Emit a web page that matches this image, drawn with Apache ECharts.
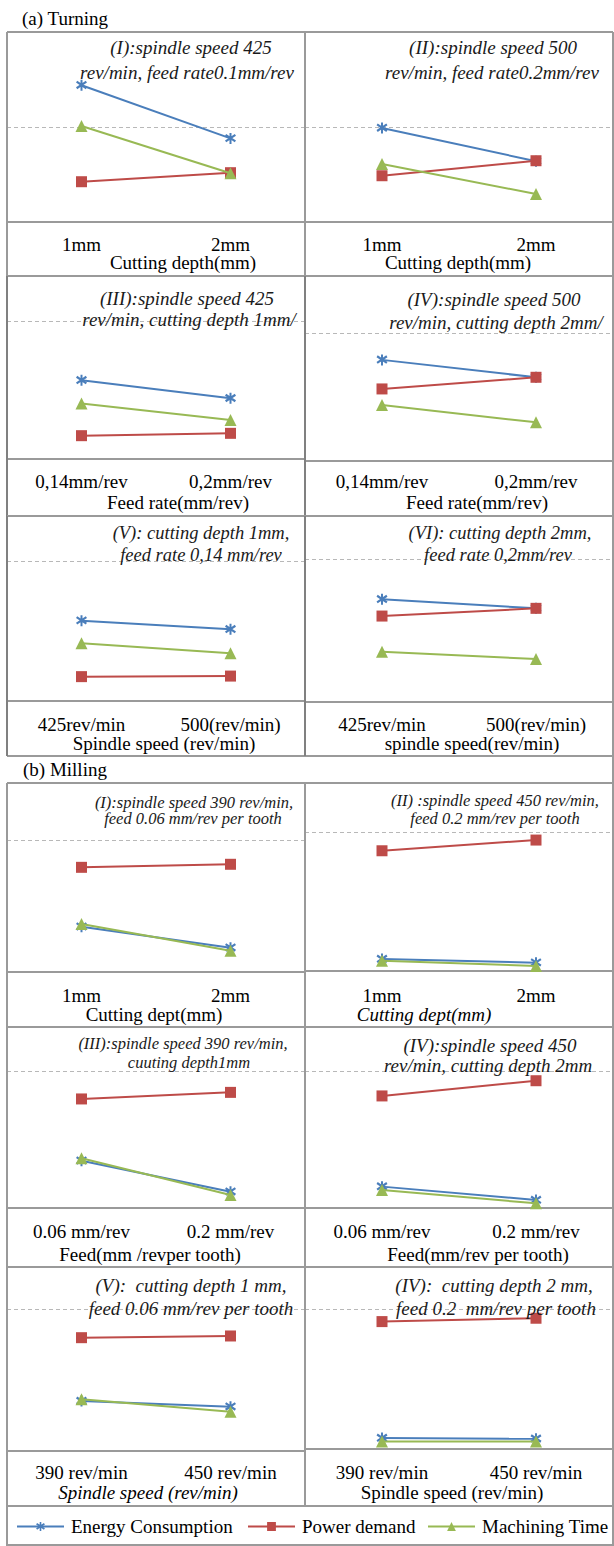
<!DOCTYPE html>
<html><head><meta charset="utf-8">
<script src="https://cdn.jsdelivr.net/npm/echarts@6/dist/echarts.min.js"></script>
<style>html,body{margin:0;padding:0;background:#fff}#c{width:614px;height:1546px}</style>
</head><body><div id="c"></div>
<script>
// ---------- data ----------
const seriesNames = ['Energy Consumption', 'Power demand', 'Machining Time'];
const sectionLabels = ['(a) Turning', '(b) Milling'];

const panelCategories = [
  ['1mm', '2mm'], ['1mm', '2mm'],
  ['0,14mm/rev', '0,2mm/rev'], ['0,14mm/rev', '0,2mm/rev'],
  ['425rev/min', '500(rev/min)'], ['425rev/min', '500(rev/min)'],
  ['1mm', '2mm'], ['1mm', '2mm'],
  ['0.06 mm/rev', '0.2 mm/rev'], ['0.06 mm/rev', '0.2 mm/rev'],
  ['390 rev/min', '450 rev/min'], ['390 rev/min', '450 rev/min']
];
const axisNames = [
  'Cutting depth(mm)', 'Cutting depth(mm)',
  'Feed rate(mm/rev)', 'Feed rate(mm/rev)',
  'Spindle speed (rev/min)', 'spindle speed(rev/min)',
  'Cutting dept(mm)', 'Cutting dept(mm)',
  'Feed(mm /revper tooth)', 'Feed(mm/rev per tooth)',
  'Spindle speed (rev/min)', 'Spindle speed (rev/min)'
];
const panelTitles = [
  ['(I):spindle speed 425', 'rev/min, feed rate0.1mm/rev'],
  ['(II):spindle speed 500', 'rev/min, feed rate0.2mm/rev'],
  ['(III):spindle speed 425', 'rev/min, cutting depth 1mm/'],
  ['(IV):spindle speed 500', 'rev/min, cutting depth 2mm/'],
  ['(V): cutting depth 1mm,', 'feed rate 0,14 mm/rev'],
  ['(VI): cutting depth 2mm,', 'feed rate 0,2mm/rev'],
  ['(I):spindle speed 390 rev/min,', 'feed 0.06 mm/rev per tooth'],
  ['(II) :spindle speed 450 rev/min,', 'feed 0.2 mm/rev per tooth'],
  ['(III):spindle speed 390 rev/min,', 'cuuting depth1mm'],
  ['(IV):spindle speed 450', 'rev/min, cutting depth 2mm'],
  ['(V):  cutting depth 1 mm,', 'feed 0.06 mm/rev per tooth'],
  ['(IV):  cutting depth 2 mm,', 'feed 0.2  mm/rev per tooth']
];
// relative values (dashed reference line = 100)
const energyConsumption = [
  [144, 88], [99, 64], [57, 44], [79, 65.4], [57.4, 51.2], [71.8, 65.5],
  [34.3, 18.4], [8.6, 6], [34.5, 11.9], [15.6, 5.8], [35.2, 31.2], [7.8, 7.3]
];
const powerDemand = [
  [42.4, 51.9], [48.7, 64.5], [16.9, 18.6], [56.3, 65.4], [17.4, 17.8], [60.1, 65.5],
  [79.3, 81.6], [86.5, 94.2], [79.6, 84.4], [81.8, 92.9], [79.8, 81], [91, 93.4]
];
const machiningTime = [
  [101, 51.3], [61, 29.5], [40.3, 28.3], [43.8, 30.2], [41.2, 34.1], [35.2, 30.1],
  [36.4, 16.1], [7.4, 3.6], [36.3, 9.5], [13.1, 3.4], [36.4, 27.7], [5.4, 5.4]
];

// ---------- layout ----------
const FONT = "'Liberation Serif', 'Times New Roman', serif";
const cols = [{x0: 7, x1: 305}, {x0: 305, x1: 613}];
const rowLayout = [
  {top: 32,   dash: [127, 127],   bottom: [222, 222],   label: 245,  name: 263,  end: 276},
  {top: 276,  dash: [321, 333],   bottom: [459, 461],   label: 482,  name: 503,  end: 516},
  {top: 516,  dash: [561, 559],   bottom: [701, 702],   label: 725,  name: 744,  end: 756},
  {top: 783,  dash: [840, 832],   bottom: [972, 971],   label: 996,  name: 1015, end: 1027},
  {top: 1027, dash: [1071, 1071], bottom: [1208, 1208], label: 1232, name: 1255, end: 1267},
  {top: 1267, dash: [1309, 1309], bottom: [1451, 1449], label: 1473, name: 1493, end: 1506}
];
const titleLayout = [
  [191, 47, 187, 72, 19], [493, 47, 492, 72, 19],
  [187, 298, 189, 319, 19], [494, 299, 496, 322, 19],
  [201, 533, 201, 555, 18.5], [500, 533, 498, 555, 18.5],
  [194, 802, 193, 818, 16.5], [495, 800, 495, 818, 16.5],
  [183, 1043, 189, 1062, 16.5], [490, 1045, 488, 1065, 19],
  [191, 1285, 191, 1308, 19], [494, 1285, 496, 1308, 19]
];
const nameOffset = [27, -1, 22, 18, 8, 13, -2, -35, -6, 19, -8, -7];
const nameItalic = [0, 0, 0, 0, 0, 0, 0, 1, 0, 0, 1, 0];

const colors = ['#4a7ebb', '#be4b48', '#98b954'];
const asterisk = 'path://M4.1,0L5.9,0L5.9,10L4.1,10ZM1.1,0.9L10,6.9L8.9,8.6L0,2.6ZM8.9,0.9L10,2.6L1.1,8.6L0,6.9Z';
const symbols = [asterisk, 'rect', 'triangle'];
const symbolSizes = [11, 11, 12];
const valueSets = [energyConsumption, powerDemand, machiningTime];

const grids = [], xAxes = [], yAxes = [], series = [], graphics = [];
for (let i = 0; i < 12; i++) {
  const r = rowLayout[Math.floor(i / 2)], c = i % 2, col = cols[c];
  const top = r.dash[c], bottom = r.bottom[c];
  grids.push({left: col.x0, top: top, width: col.x1 - col.x0, height: bottom - top,
              containLabel: false, outerBoundsMode: 'none'});
  const off = nameOffset[i];
  xAxes.push({
    type: 'category', gridIndex: i, data: panelCategories[i], boundaryGap: true,
    axisLine: {show: false}, axisTick: {show: false}, splitLine: {show: false},
    axisLabel: {interval: 0, margin: r.label - bottom - 10, fontSize: 19, fontFamily: FONT, color: '#000', hideOverlap: false},
    name: axisNames[i], nameLocation: 'middle', nameGap: r.name - bottom - 10, nameMoveOverlap: false,
    nameTextStyle: {fontSize: 19, fontFamily: FONT, color: '#000', fontStyle: nameItalic[i] ? 'italic' : 'normal',
                    padding: off >= 0 ? [0, 0, 0, 2 * off] : [0, -2 * off, 0, 0]}
  });
  yAxes.push({
    type: 'value', gridIndex: i, min: 0, max: 100, interval: 100,
    axisLabel: {show: false}, axisLine: {show: false}, axisTick: {show: false},
    splitLine: {show: true, showMinLine: false, showMaxLine: true, lineStyle: {type: [4, 3], color: '#b8b8b8', width: 1}}
  });
  for (let k = 0; k < 3; k++) {
    series.push({
      type: 'line', name: seriesNames[k], xAxisIndex: i, yAxisIndex: i,
      data: valueSets[k][i], symbol: symbols[k], symbolSize: symbolSizes[k], showAllSymbol: true,
      clip: false, silent: true, animation: false, z: 3 + k,
      lineStyle: {color: colors[k], width: 2}, itemStyle: {color: colors[k]}
    });
  }
  const t = titleLayout[i];
  const tf = {fontSize: t[4], fontFamily: FONT, fontStyle: 'italic', fill: '#1a1a1a', align: 'center', verticalAlign: 'middle'};
  graphics.push({type: 'text', x: t[0], y: t[1], z: 10, style: Object.assign({text: panelTitles[i][0]}, tf)});
  graphics.push({type: 'text', x: t[2], y: t[3], z: 10, style: Object.assign({text: panelTitles[i][1]}, tf)});
}

// table lines
const LC = '#9a9a9a';
function hline(y, x1, x2, col) { graphics.push({type: 'line', z: 1, shape: {x1: x1, y1: y, x2: x2, y2: y}, style: {stroke: col || LC, lineWidth: 2}}); }
function vline(x, y1, y2, col) { graphics.push({type: 'line', z: 1, shape: {x1: x, y1: y1, x2: x, y2: y2}, style: {stroke: col || LC, lineWidth: 2}}); }
rowLayout.forEach(function (r, ri) {
  hline(r.top, 7, 613);
  hline(r.bottom[0], 7, 305);
  hline(r.bottom[1], 305, 613);
  hline(r.end, 7, 613);
  const dark = (ri === 1 || ri === 2) ? '#808080' : null;
  vline(7, r.top, r.end, dark);
  vline(305, r.top, r.end, dark);
  vline(613, r.top, r.end);
});
vline(613, 756, 783);
hline(1545, 7, 613);
vline(7, 1506, 1546);
vline(613, 1506, 1546);

graphics.push({type: 'text', x: 22, y: 18, style: {text: sectionLabels[0], fontSize: 19, fontFamily: FONT, fill: '#000', align: 'left', verticalAlign: 'middle'}});
graphics.push({type: 'text', x: 23, y: 769, style: {text: sectionLabels[1], fontSize: 19, fontFamily: FONT, fill: '#000', align: 'left', verticalAlign: 'middle'}});

const legendLeft = [16, 247, 427];
const legends = seriesNames.map(function (n, k) {
  return {left: legendLeft[k], top: 1517, padding: 0, data: [n], itemWidth: 47, itemHeight: 11, itemGap: 0,
          selectedMode: false, textStyle: {fontSize: 19, fontFamily: FONT, color: '#000', padding: [0, 0, 0, 2]}};
});

const chart = echarts.init(document.getElementById('c'), null, {renderer: 'svg'});
chart.setOption({
  animation: false,
  grid: grids, xAxis: xAxes, yAxis: yAxes, series: series,
  legend: legends, graphic: graphics
});
</script></body></html>
